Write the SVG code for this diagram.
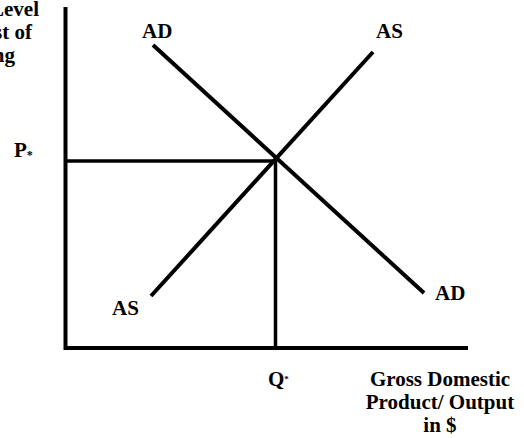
<svg xmlns="http://www.w3.org/2000/svg" width="524" height="438" viewBox="0 0 524 438">
<style>
.t{font-family:"Liberation Serif","Times New Roman",serif;font-weight:bold;font-size:21px;fill:#000}
.ax{stroke:#000;stroke-width:4;fill:none}
.cv{stroke:#000;stroke-width:4;fill:none}
.gd{stroke:#000;stroke-width:3.5;fill:none}
</style>
<rect width="524" height="438" fill="#fff"/>
<g id="y-axis-label">
<text class="t" text-anchor="end" x="39" y="16">Level</text>
<text class="t" text-anchor="end" x="32" y="39">st of</text>
<text class="t" text-anchor="end" x="15" y="62">ng</text>
</g>
<g id="connectors">
<line class="ax" x1="65.5" y1="7" x2="65.5" y2="350"/>
<line class="ax" x1="64" y1="348" x2="468" y2="348"/>
<line class="gd" x1="66" y1="161" x2="276" y2="161"/>
<line class="gd" x1="275.5" y1="159" x2="275.5" y2="348"/>
<line class="cv" x1="153" y1="45" x2="424" y2="293"/>
<line class="cv" x1="151" y1="296" x2="373" y2="52"/>
</g>
<g id="ad-top"><text class="t" x="142" y="38">AD</text></g>
<g id="as-top"><text class="t" x="376" y="38">AS</text></g>
<g id="as-bottom"><text class="t" x="112" y="315">AS</text></g>
<g id="ad-bottom"><text class="t" x="435" y="300">AD</text></g>
<g id="p-star"><text class="t" x="14" y="157">P<tspan font-size="12" dy="2">*</tspan></text></g>
<g id="q-star"><text class="t" x="268" y="386">Q<tspan font-size="9" dy="-4">*</tspan></text></g>
<g id="x-axis-label">
<text class="t" text-anchor="middle" x="440" y="386">Gross Domestic</text>
<text class="t" text-anchor="middle" x="440" y="409">Product/ Output</text>
<text class="t" text-anchor="middle" x="440" y="432">in $</text>
</g>
</svg>
